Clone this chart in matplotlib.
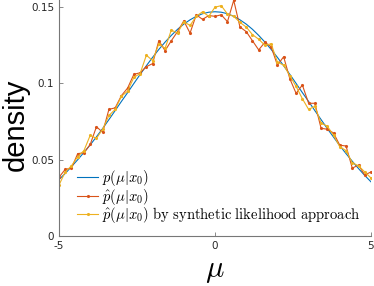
import matplotlib
matplotlib.use("Agg")
import matplotlib.pyplot as plt

plt.rcParams['mathtext.fontset'] = 'cm'

mu = [-5.0, -4.8, -4.6, -4.4, -4.2, -4.0, -3.8, -3.6, -3.4, -3.2, -3.0,
      -2.8, -2.6, -2.4, -2.2, -2.0, -1.8, -1.6, -1.4, -1.2, -1.0,
      -0.8, -0.6, -0.4, -0.2, 0.0, 0.2, 0.4, 0.6, 0.8, 1.0,
      1.2, 1.4, 1.6, 1.8, 2.0, 2.2, 2.4, 2.6, 2.8, 3.0,
      3.2, 3.4, 3.6, 3.8, 4.0, 4.2, 4.4, 4.6, 4.8, 5.0]

p_true = [0.0370, 0.0410, 0.0455, 0.0500, 0.0548, 0.0597, 0.0650, 0.0705, 0.0763, 0.0822, 0.0882,
          0.0940, 0.1000, 0.1059, 0.1116, 0.1171, 0.1223, 0.1271, 0.1315, 0.1355, 0.1389,
          0.1417, 0.1440, 0.1457, 0.1467, 0.1470, 0.1467, 0.1457, 0.1440, 0.1417, 0.1389,
          0.1355, 0.1315, 0.1271, 0.1223, 0.1171, 0.1116, 0.1059, 0.1000, 0.0940, 0.0882,
          0.0822, 0.0763, 0.0704, 0.0648, 0.0592, 0.0540, 0.0490, 0.0442, 0.0397, 0.0355]

p_hat = [0.0385, 0.0437, 0.0445, 0.0540, 0.0545, 0.0600, 0.0716, 0.0680, 0.0830, 0.0840, 0.0920,
         0.0970, 0.1060, 0.1070, 0.1110, 0.1130, 0.1280, 0.1215, 0.1280, 0.1340, 0.1410,
         0.1330, 0.1450, 0.1420, 0.1445, 0.1440, 0.1450, 0.1405, 0.1545, 0.1370, 0.1340,
         0.1280, 0.1220, 0.1270, 0.1240, 0.1120, 0.1175, 0.1030, 0.0935, 0.0990, 0.0870,
         0.0870, 0.0706, 0.0700, 0.0675, 0.0595, 0.0590, 0.0445, 0.0465, 0.0400, 0.0420]

p_synth = [0.0334, 0.0420, 0.0460, 0.0520, 0.0560, 0.0660, 0.0640, 0.0700, 0.0790, 0.0830, 0.0915,
           0.0950, 0.1040, 0.1065, 0.1185, 0.1150, 0.1260, 0.1230, 0.1350, 0.1330, 0.1405,
           0.1380, 0.1440, 0.1470, 0.1440, 0.1500, 0.1510, 0.1455, 0.1440, 0.1400, 0.1370,
           0.1320, 0.1290, 0.1250, 0.1260, 0.1140, 0.1120, 0.1050, 0.0980, 0.0900, 0.0830,
           0.0850, 0.0740, 0.0720, 0.0660, 0.0585, 0.0560, 0.0480, 0.0460, 0.0420, 0.0380]

xticks = [-5, 0, 5]
xticklabels = ['-5', '0', '5']
yticks = [0, 0.05, 0.1, 0.15]
yticklabels = ['0', '0.05', '0.1', '0.15']

labels = [r'$p(\mu|x_0)$', r'$\hat{p}(\mu|x_0)$',
          r'$\hat{p}(\mu|x_0)\ \mathrm{by\ synthetic\ likelihood\ approach}$']

fig = plt.figure(figsize=(3.74, 2.86), dpi=100)
ax = fig.add_axes([59/374, 50/286, 312/374, 236/286])

ax.plot(mu, p_true, color='#0072BD', lw=0.8, label=labels[0])
ax.plot(mu, p_hat, color='#D95319', lw=0.8, marker='.', ms=2.5, label=labels[1])
ax.plot(mu, p_synth, color='#EDB120', lw=0.8, marker='.', ms=2.5, label=labels[2])

ax.set_xlim(-5, 5)
ax.set_ylim(0, 0.1547)
ax.set_xticks(xticks)
ax.set_xticklabels(xticklabels)
ax.set_yticks(yticks)
ax.set_yticklabels(yticklabels)
ax.tick_params(direction='in', length=3, width=0.6, labelsize=7.5,
               colors='#777777', labelcolor='#262626')
for s in ['top', 'right']:
    ax.spines[s].set_visible(False)
for s in ['left', 'bottom']:
    ax.spines[s].set_color('#777777')
    ax.spines[s].set_linewidth(0.8)

ax.set_ylabel('density', fontsize=21, family='Liberation Sans')
ax.yaxis.set_label_coords(-0.095, 0.47)
ax.set_xlabel(r'$\mu$', fontsize=22, labelpad=4)

ax.legend(loc='lower left', bbox_to_anchor=(0.04, 0.02), frameon=False,
          fontsize=10.5, handlelength=1.4, handletextpad=0.3,
          labelspacing=-0.08, borderaxespad=0)

fig.savefig('out.png', dpi=100)
